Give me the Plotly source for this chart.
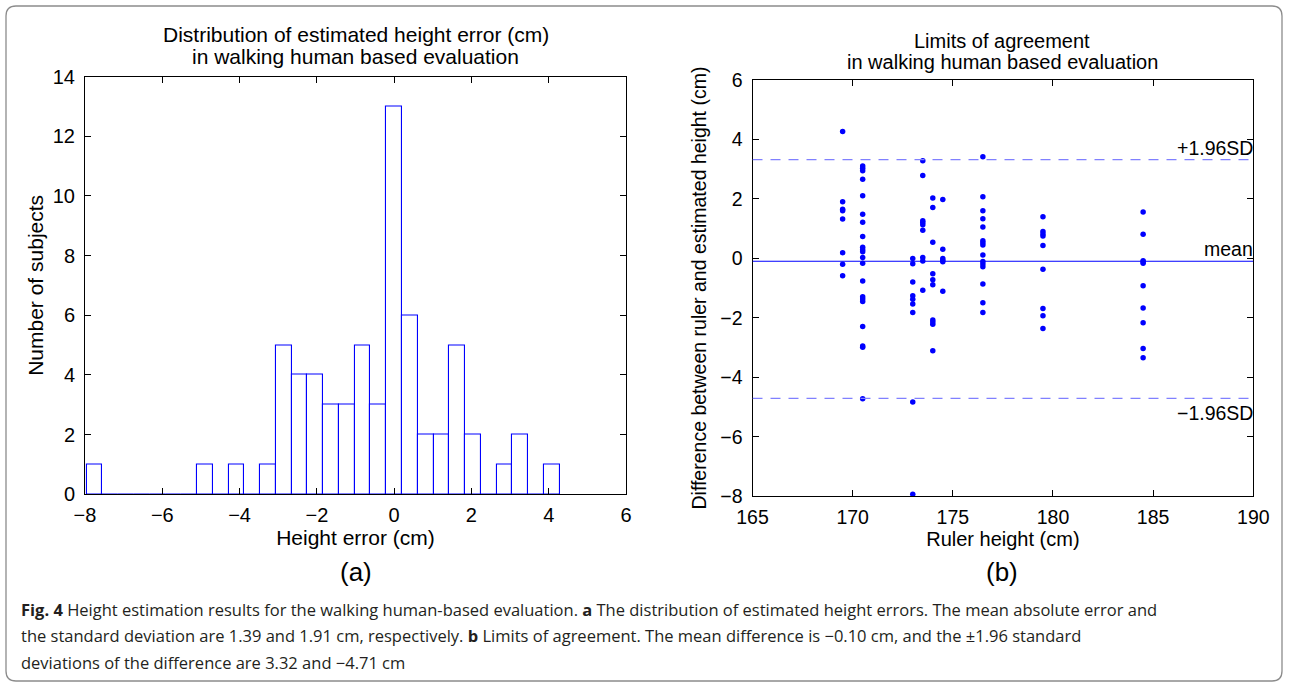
import numpy as np
import plotly.graph_objects as go

# (a) histogram of height error, 30 bins (matlab hist style)
bin_start = -7.956
bin_width = 0.408
counts = [1, 0, 0, 0, 0, 0, 0, 1, 0, 1, 0, 1, 5, 4, 4, 3, 3, 5, 3, 13,
          6, 2, 2, 5, 2, 0, 1, 2, 0, 1]

# (b) Bland-Altman: difference (cm) grouped by ruler height (cm)
ruler_heights = [169.5, 170.5, 173.0, 173.5, 174.0, 174.5, 176.5, 179.5, 184.5]
diff_169_5 = [4.26, 1.90, 1.65, 1.60, 1.32, 0.19, -0.20, -0.59]
diff_170_5 = [3.10, 3.03, 2.94, 2.66, 2.10, 1.48, 1.21, 0.73, 0.37, 0.29, 0.22,
              0.03, -0.17, -0.76, -1.29, -1.37, -1.45, -2.29, -2.95, -2.99, -4.72]
diff_173_0 = [-0.01, -0.18, -0.80, -1.26, -1.38, -1.54, -1.82, -4.83, -7.93]
diff_173_5 = [3.28, 2.78, 1.26, 1.20, 1.13, 0.94, 0.03, -0.09, -1.07]
diff_174_0 = [2.03, 1.71, 0.54, -0.52, -0.72, -0.89, -2.07, -2.14, -2.22, -3.11]
diff_174_5 = [1.98, 0.30, -0.01, -0.07, -0.12, -1.11]
diff_176_5 = [3.41, 2.07, 1.60, 1.33, 1.05, 0.59, 0.52, 0.45, 0.11, -0.11, -0.19,
              -0.28, -0.86, -1.49, -1.82]
diff_179_5 = [1.40, 0.90, 0.82, 0.75, 0.43, -0.37, -1.69, -1.93, -2.36]
diff_184_5 = [1.56, 0.81, -0.08, -0.12, -0.17, -0.92, -1.67, -2.17, -3.03, -3.34]

mean_diff = -0.10
upper_loa = 3.32
lower_loa = -4.71

groups = [diff_169_5, diff_170_5, diff_173_0, diff_173_5, diff_174_0,
          diff_174_5, diff_176_5, diff_179_5, diff_184_5]
xs, ys = [], []
for h, g in zip(ruler_heights, groups):
    xs += [h] * len(g)
    ys += g

centers = bin_start + bin_width * (np.arange(len(counts)) + 0.5)

W, H = 1289, 687
FONT = "Liberation Sans, Arial, sans-serif"
BLUE = "#0000ff"

fig = go.Figure()

fig.add_trace(go.Bar(
    x=centers, y=counts, width=bin_width,
    marker=dict(color="white", line=dict(color=BLUE, width=1.1)),
    xaxis="x", yaxis="y", showlegend=False,
))

fig.add_trace(go.Scatter(
    x=xs, y=ys, mode="markers",
    marker=dict(color=BLUE, size=5.5),
    xaxis="x2", yaxis="y2", showlegend=False,
))


def ax(size, **kw):
    d = dict(
        showline=True, linecolor="black", linewidth=1, mirror="allticks",
        ticks="inside", ticklen=6, tickcolor="black", tickwidth=1,
        showgrid=False, zeroline=False, automargin=False,
        tickfont=dict(family=FONT, size=size, color="black"),
    )
    d.update(kw)
    return d


fig.update_layout(
    width=W, height=H,
    margin=dict(l=0, r=0, t=0, b=0),
    paper_bgcolor="white", plot_bgcolor="white",
    font=dict(family=FONT, color="black"),
    bargap=0,
    xaxis=ax(20, domain=[85 / W, 626 / W], range=[-8, 6], dtick=2,
             anchor="y", ticklabelstandoff=3,
             title=dict(text="Height error (cm)", standoff=0,
                        font=dict(size=21))),
    yaxis=ax(20, domain=[1 - 494.3 / H, 1 - 76.5 / H], range=[0, 14],
             dtick=2, anchor="x", ticklabelstandoff=5,
             title=dict(text="Number of subjects", standoff=3,
                        font=dict(size=21))),
    xaxis2=ax(19.5, domain=[752.5 / W, 1253.3 / W], range=[165, 190],
              dtick=5, anchor="y2", ticklabelstandoff=3,
              title=dict(text="Ruler height (cm)", standoff=0,
                         font=dict(size=20))),
    yaxis2=ax(19.5, domain=[1 - 496.3 / H, 1 - 79.8 / H], range=[-8, 6],
              dtick=2, anchor="x2", ticklabelstandoff=5,
              title=dict(text="Difference between ruler and estimated height (cm)",
                         standoff=8, font=dict(size=19.5))),
)

# limits of agreement lines
for yv, dash, col in [(mean_diff, "solid", BLUE),
                      (upper_loa, "10px,8px", "#8080ff"),
                      (lower_loa, "10px,8px", "#8080ff")]:
    fig.add_shape(type="line", xref="x2", yref="y2", x0=165, x1=190,
                  y0=yv, y1=yv, line=dict(color=col, width=1.2, dash=dash))

lab_font = dict(family=FONT, size=19.5, color="black")
fig.add_annotation(xref="x2", yref="y2", x=190, y=upper_loa, text="+1.96SD",
                   showarrow=False, xanchor="right", yanchor="bottom",
                   xshift=2, yshift=-1, font=lab_font)
fig.add_annotation(xref="x2", yref="y2", x=190, y=mean_diff, text="mean",
                   showarrow=False, xanchor="right", yanchor="bottom",
                   xshift=2, yshift=-1, font=lab_font)
fig.add_annotation(xref="x2", yref="y2", x=190, y=lower_loa, text="\u22121.96SD",
                   showarrow=False, xanchor="right", yanchor="top",
                   xshift=2, yshift=-2, font=lab_font)

# panel titles (one annotation per line for matlab-like spacing)
titles = [
    (355.5, 35, "Distribution of estimated height error (cm)", 21),
    (355.5, 57, "in walking human based evaluation", 21),
    (1002.5, 41, "Limits of agreement", 20),
    (1002.5, 62, "in walking human based evaluation", 20),
]
for xc, yc, txt, sz in titles:
    fig.add_annotation(xref="paper", yref="paper", x=xc / W, y=1 - yc / H,
                       text=txt, showarrow=False, xanchor="center",
                       yanchor="middle",
                       font=dict(family=FONT, size=sz, color="black"))

# panel letters
for xc, lab in [(355.5, "(a)"), (1002.5, "(b)")]:
    fig.add_annotation(xref="paper", yref="paper", x=xc / W, y=1 - 572 / H,
                       text=lab, showarrow=False, xanchor="center",
                       yanchor="middle",
                       font=dict(family=FONT, size=26, color="black"))

# caption
cap_font = dict(family="Open Sans, sans-serif", size=16.5, color="#231f20")
caption = [
    "<b>Fig. 4</b> Height estimation results for the walking human-based evaluation. "
    "<b>a</b> The distribution of estimated height errors. The mean absolute error and",
    "the standard deviation are 1.39 and 1.91 cm, respectively. <b>b</b> Limits of "
    "agreement. The mean difference is \u22120.10 cm, and the \u00b11.96 standard",
    "deviations of the difference are 3.32 and \u22124.71 cm",
]
for i, line in enumerate(caption):
    fig.add_annotation(xref="paper", yref="paper", x=19 / W, y=1 - (609 + 26.5 * i) / H,
                       text=line, showarrow=False, xanchor="left",
                       yanchor="middle", font=cap_font)

# rounded frame around the figure
x0, x1 = 6 / W, 1282 / W
yt, yb = 1 - 6 / H, 1 - 681 / H
rx, ry = 10 / W, 10 / H
frame = (f"M {x0 + rx},{yt} L {x1 - rx},{yt} Q {x1},{yt} {x1},{yt - ry} "
         f"L {x1},{yb + ry} Q {x1},{yb} {x1 - rx},{yb} "
         f"L {x0 + rx},{yb} Q {x0},{yb} {x0},{yb + ry} "
         f"L {x0},{yt - ry} Q {x0},{yt} {x0 + rx},{yt} Z")
fig.add_shape(type="path", xref="paper", yref="paper", path=frame,
              line=dict(color="#8c8c8c", width=1.3), layer="below")

# page body margin would push the figure 8px off the window
fig.write_html("out.html", config={"displayModeBar": False},
               post_script="document.body.style.margin='0';"
                           "document.body.style.overflow='hidden';")
